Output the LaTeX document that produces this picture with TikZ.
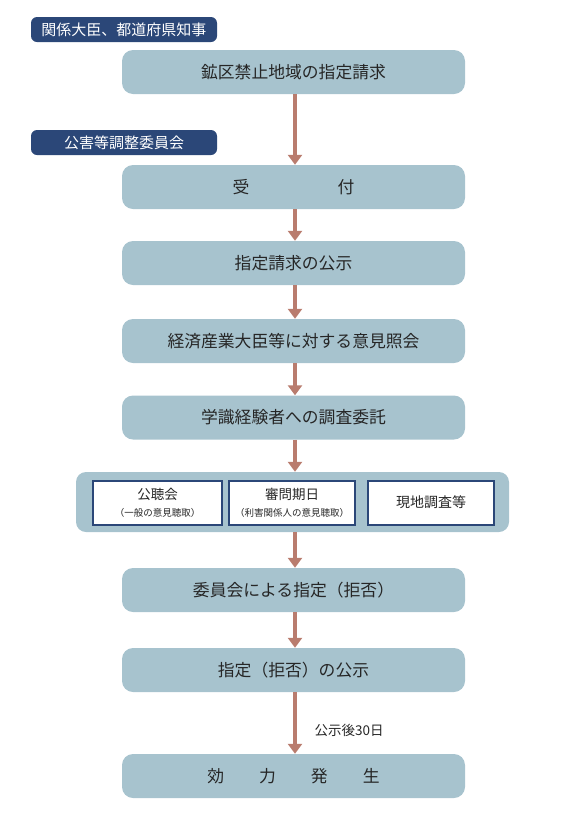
\documentclass[tikz,border=0pt]{standalone}
\usepackage{fontspec}
\setmainfont{Noto Sans CJK JP}
\usepackage{xcolor}
\usetikzlibrary{arrows.meta,positioning}

\definecolor{stepfill}{HTML}{A7C3CE}
\definecolor{headnavy}{HTML}{2B4778}
\definecolor{flowarrow}{HTML}{B97C6E}

\begin{document}
\begin{tikzpicture}[
  x=1pt,y=-1pt,>={Triangle[width=14pt,length=10pt]},
  stage/.style={fill=stepfill,rounded corners=11pt,minimum width=343pt,
    minimum height=44pt,inner sep=0pt,align=center,
    font=\fontsize{16.8}{20}\selectfont,text=black!85},
  header/.style={fill=headnavy,rounded corners=6pt,minimum height=25pt,
    minimum width=186pt,inner sep=0pt,text=white,
    font=\fontsize{15}{18}\selectfont},
  group/.style={fill=stepfill,rounded corners=10pt,minimum width=433pt,
    minimum height=60pt,inner sep=0pt},
  sub/.style={draw=headnavy,line width=2pt,fill=white,minimum height=44pt,
    inner sep=0pt,align=center,font=\fontsize{13.5}{16}\selectfont,text=black!85},
  flow/.style={->,draw=flowarrow,fill=flowarrow,line width=4pt}
]
\useasboundingbox (0,0) rectangle (570,839);

\node[header] (h1) at (124,29.5) {関係大臣、都道府県知事};
\node[stage] (request) at (293.5,72) {鉱区禁止地域の指定請求};

\node[header] (h2) at (124,142.5) {公害等調整委員会};
\node[stage] (receipt) at (293.5,187) {受\hspace{88pt}付};
\node[stage] (notice) at (293.5,263) {指定請求の公示};
\node[stage] (opinion) at (293.5,341) {経済産業大臣等に対する意見照会};
\node[stage] (expert) at (293.5,417.5) {学識経験者への調査委託};

\node[group] (hearings) at (292.5,502) {};
\node[sub,minimum width=129pt] (public) at (157.5,502.5)
  {公聴会\\[1pt]{\fontsize{9.5}{11}\selectfont（一般の意見聴取）}};
\node[sub,minimum width=126pt] (trial) at (292,502.5)
  {審問期日\\[1pt]{\fontsize{9.5}{11}\selectfont（利害関係人の意見聴取）}};
\node[sub,minimum width=126pt,font=\fontsize{14}{16}\selectfont] (survey) at (431,502.5) {現地調査等};

\node[stage] (decision) at (293.5,590) {委員会による指定（拒否）};
\node[stage] (announce) at (293.5,670) {指定（拒否）の公示};
\node[stage] (effect) at (293.5,776) {効\hspace{35pt}力\hspace{35pt}発\hspace{35pt}生};

\draw[flow] (request.south -| 295,0) -- (receipt.north -| 295,0);
\draw[flow] (receipt.south -| 295,0) -- (notice.north -| 295,0);
\draw[flow] (notice.south -| 295,0) -- (opinion.north -| 295,0);
\draw[flow] (opinion.south -| 295,0) -- (expert.north -| 295,0);
\draw[flow] (expert.south -| 295,0) -- (hearings.north -| 295,0);
\draw[flow] (hearings.south -| 295,0) -- (decision.north -| 295,0);
\draw[flow] (decision.south -| 295,0) -- (announce.north -| 295,0);
\draw[flow] (announce.south -| 295,0) -- (effect.north -| 295,0);

\node[anchor=west,font=\fontsize{13.5}{16}\selectfont,text=black!85] (delay)
  at (311,730) {公示後30日};
\end{tikzpicture}
\end{document}
